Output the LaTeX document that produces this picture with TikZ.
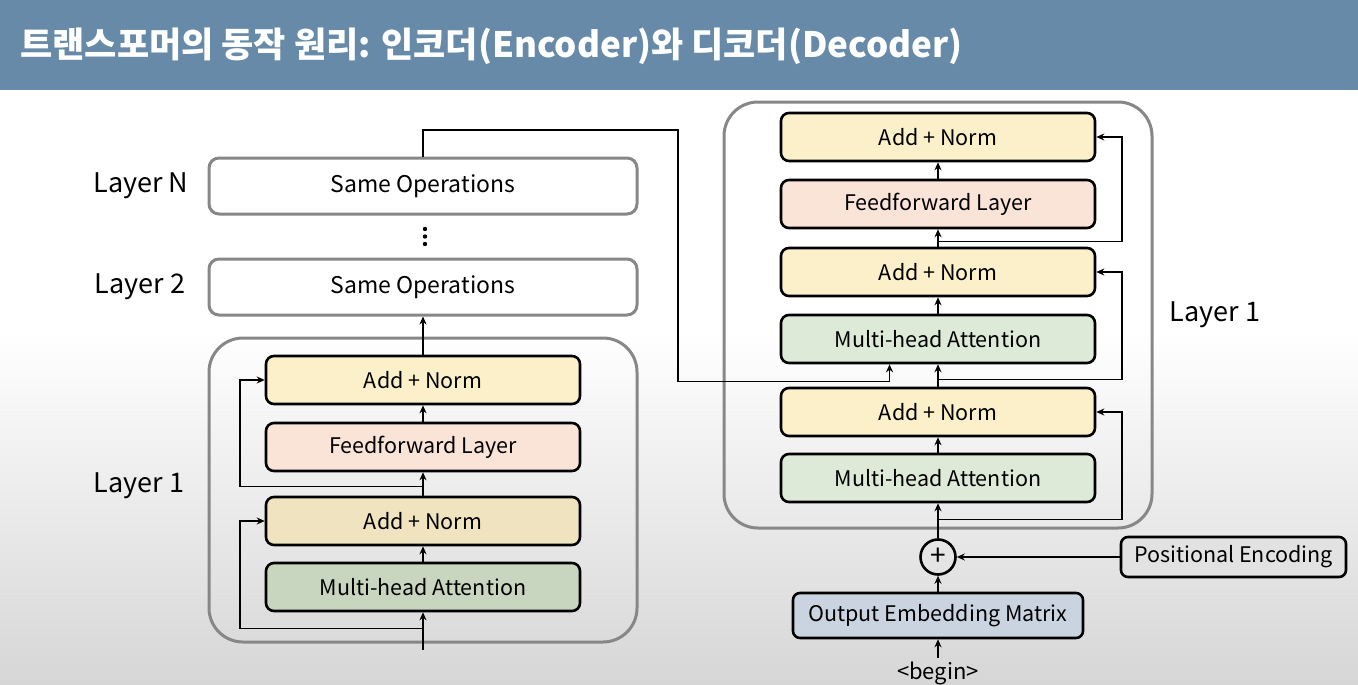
\documentclass[tikz,border=0pt]{standalone}
\usepackage{fontspec}
\setmainfont{Noto Sans CJK KR}
\usetikzlibrary{arrows.meta,calc}

\definecolor{titlebg}{RGB}{102,138,168}
\definecolor{layergray}{RGB}{135,135,135}
\definecolor{normfill}{RGB}{252,240,202}
\definecolor{normdark}{RGB}{240,228,192}
\definecolor{fffill}{RGB}{250,228,216}
\definecolor{attfill}{RGB}{222,234,216}
\definecolor{attdark}{RGB}{200,214,192}
\definecolor{embfill}{RGB}{202,212,224}
\definecolor{posfill}{RGB}{226,226,226}
\definecolor{bggray}{RGB}{214,214,214}

\begin{document}
\begin{tikzpicture}[x=1pt,y=-1pt,
    blk/.style={draw=black, line width=2.6pt, rounded corners=8pt,
      minimum width=314pt, minimum height=48pt, inner sep=0pt,
      font=\fontsize{21.5}{24}\selectfont},
    same/.style={draw=layergray, line width=3pt, rounded corners=10pt, fill=white,
      minimum width=428pt, minimum height=56pt, inner sep=0pt,
      font=\fontsize{23}{26}\selectfont},
    outer/.style={draw=layergray, line width=3pt, rounded corners=34pt, inner sep=0pt},
    lbl/.style={font=\fontsize{27}{30}\selectfont},
    arr/.style={line width=1.5pt, -{Stealth[length=8pt,width=7pt]}},
    line/.style={line width=1.5pt}]
  % frame and background
  \useasboundingbox (0,0) rectangle (1358,685);
  \fill[white] (0,90) rectangle (1358,330);
  \shade[top color=white, bottom color=bggray] (0,330) rectangle (1358,685);
  \fill[titlebg] (0,0) rectangle (1358,90);
  \node[anchor=west, text=white, font=\fontsize{35}{38}\selectfont\bfseries] (title) at (17,46)
    {트랜스포머의 동작 원리: 인코더(Encoder)와 디코더(Decoder)};

  % encoder
  \node[same] (encN) at (423,186) {Same Operations};
  \node[same] (enc2) at (423,287) {Same Operations};
  \foreach \y in {229,236.5,244}
    \fill (425,\y) circle (2.2pt);
  \node[outer, minimum width=428pt, minimum height=304pt] (enc1) at (423,490) {};
  \node[blk, fill=normfill] (ean2) at (423,380) {Add + Norm};
  \node[blk, fill=fffill] (eff) at (423,447) {Feedforward Layer};
  \node[blk, fill=normdark] (ean1) at (423,521) {Add + Norm};
  \node[blk, fill=attdark] (emha) at (423,587) {Multi-head Attention};
  \node[lbl] (lN) at (141,186) {Layer N};
  \node[lbl] (l2) at (140,287) {Layer 2};
  \node[lbl] (l1) at (139,486) {Layer 1};

  \draw[arr] ($(enc1.south)+(0,6)$) -- (emha.south);
  \draw[arr] ($(emha.south)+(0,16)$) -| (240,521) -- (ean1.west);
  \draw[arr] (emha.north) -- (ean1.south);
  \draw[arr] (ean1.north) -- (eff.south);
  \draw[arr] ($(eff.south)+(0,14)$) -| (240,380) -- (ean2.west);
  \draw[arr] (eff.north) -- (ean2.south);
  \draw[arr] (ean2.north) -- (enc2.south);

  % decoder
  \node[outer, minimum width=428pt, minimum height=426pt] (dec1) at (938,315) {};
  \node[blk, fill=normfill] (dan3) at (938,137) {Add + Norm};
  \node[blk, fill=fffill] (dff) at (938,204) {Feedforward Layer};
  \node[blk, fill=normfill] (dan2) at (938,272) {Add + Norm};
  \node[blk, fill=attfill] (dmha2) at (938,339) {Multi-head Attention};
  \node[blk, fill=normfill] (dan1) at (938,412) {Add + Norm};
  \node[blk, fill=attfill] (dmha1) at (938,478) {Multi-head Attention};
  \node[lbl] (ld) at (1215,315) {Layer 1};

  \node[draw=black, line width=2.6pt, circle, minimum size=35pt, inner sep=0pt,
    font=\fontsize{28}{28}\selectfont] (plus) at (938,557) {+};
  \node[draw=black, line width=2.6pt, rounded corners=7pt, fill=posfill,
    minimum width=225pt, minimum height=40pt, inner sep=0pt,
    font=\fontsize{21.5}{24}\selectfont] (pos) at (1233.5,557) {Positional Encoding};
  \node[draw=black, line width=2.6pt, rounded corners=7pt, fill=embfill,
    minimum width=290pt, minimum height=45pt, inner sep=0pt,
    font=\fontsize{21.5}{24}\selectfont] (emb) at (938,615.5) {Output Embedding Matrix};
  \node[font=\fontsize{22}{24}\selectfont] (bgn) at (938,673) {<begin>};

  \draw[arr] (bgn.north) -- (emb.south);
  \draw[arr] (emb.north) -- (plus.south);
  \draw[arr] (pos.west) -- (plus.east);
  \draw[arr] (plus.north) -- (dmha1.south);
  \draw[arr] ($(dmha1.south)+(0,16)$) -| (1122,412) -- (dan1.east);
  \draw[arr] (dmha1.north) -- (dan1.south);
  \draw[arr] (dan1.north) -- (dmha2.south);
  \draw[arr] ($(dmha2.south)+(0,15)$) -| (1122,272) -- (dan2.east);
  \draw[arr] (dmha2.north) -- (dan2.south);
  \draw[arr] (dan2.north) -- (dff.south);
  \draw[arr] ($(dff.south)+(0,12)$) -| (1122,137) -- (dan3.east);
  \draw[arr] (dff.north) -- (dan3.south);

  % encoder output into decoder attention
  \coordinate (mem) at ($(dmha2.south west)!0.347!(dmha2.south east)$);
  \draw[arr] (encN.north) |- (678,130) |- ($(mem)+(0,17)$) -- (mem);
\end{tikzpicture}
\end{document}
